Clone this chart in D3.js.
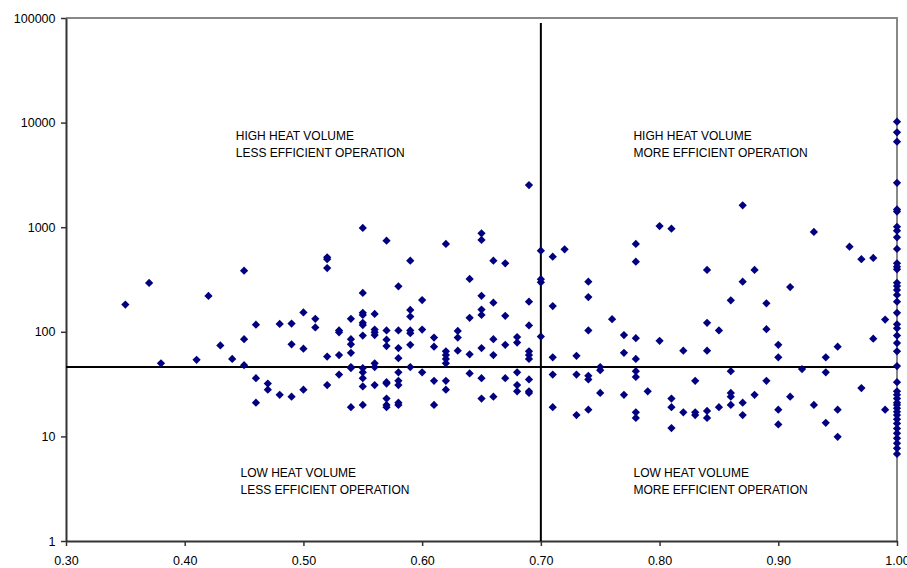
<!DOCTYPE html>
<html>
<head>
<meta charset="utf-8">
<script src="https://cdn.jsdelivr.net/npm/d3@7"></script>
<style>
  body { margin: 0; background: #fff; }
  svg { display: block; font-family: "Liberation Sans", Arial, sans-serif; }
  .tick text { font-size: 12.5px; fill: #000; }
  .quad-label { font-size: 12px; fill: #000; }
</style>
</head>
<body>
<svg id="chart" width="907" height="568"></svg>
<script>
/* ---------- data ---------- */
// x = efficiency ratio, y = heat volume (log scale)
const xVals = [
  0.35, 0.37, 0.38, 0.41, 0.42, 0.43, 0.44,
  0.45, 0.45, 0.45,
  0.46, 0.46, 0.46, 0.47, 0.47,
  0.48, 0.48, 0.49, 0.49, 0.49,
  0.50, 0.50, 0.50, 0.51, 0.51,
  0.52, 0.52, 0.52, 0.52, 0.52,
  0.53, 0.53, 0.53, 0.53,
  0.54, 0.54, 0.54, 0.54, 0.54, 0.54, 0.54,
  0.55, 0.55, 0.55, 0.55, 0.55, 0.55, 0.55, 0.55, 0.55, 0.55, 0.55, 0.55,
  0.56, 0.56, 0.56, 0.56, 0.56, 0.56, 0.56,
  0.57, 0.57, 0.57, 0.57, 0.57, 0.57, 0.57, 0.57, 0.57,
  0.58, 0.58, 0.58, 0.58, 0.58, 0.58, 0.58, 0.58, 0.58,
  0.59, 0.59, 0.59, 0.59, 0.59, 0.59, 0.59,
  0.60, 0.60, 0.60,
  0.61, 0.61, 0.61, 0.61,
  0.62, 0.62, 0.62, 0.62, 0.62, 0.62, 0.62,
  0.63, 0.63, 0.63,
  0.64, 0.64, 0.64, 0.64,
  0.65, 0.65, 0.65, 0.65, 0.65, 0.65, 0.65, 0.65,
  0.66, 0.66, 0.66, 0.66, 0.66,
  0.67, 0.67, 0.67, 0.67,
  0.68, 0.68, 0.68, 0.68, 0.68,
  0.69, 0.69, 0.69, 0.69, 0.69, 0.69, 0.69, 0.69, 0.69,
  0.70, 0.70, 0.70, 0.70,
  0.71, 0.71, 0.71, 0.71, 0.71,
  0.72,
  0.73, 0.73, 0.73,
  0.74, 0.74, 0.74, 0.74, 0.74, 0.74,
  0.75, 0.75, 0.75,
  0.76,
  0.77, 0.77, 0.77,
  0.78, 0.78, 0.78, 0.78, 0.78, 0.78, 0.78, 0.78,
  0.79,
  0.80, 0.80,
  0.81, 0.81, 0.81, 0.81,
  0.82, 0.82,
  0.83, 0.83, 0.83,
  0.84, 0.84, 0.84, 0.84, 0.84,
  0.85, 0.85,
  0.86, 0.86, 0.86, 0.86, 0.86,
  0.87, 0.87, 0.87, 0.87,
  0.88, 0.88,
  0.89, 0.89, 0.89,
  0.90, 0.90, 0.90, 0.90,
  0.91, 0.91,
  0.92,
  0.93, 0.93,
  0.94, 0.94, 0.94,
  0.95, 0.95, 0.95,
  0.96,
  0.97, 0.97,
  0.98, 0.98,
  0.99, 0.99,
  1.00, 1.00, 1.00, 1.00, 1.00, 1.00, 1.00, 1.00, 1.00, 1.00, 1.00, 1.00, 1.00, 1.00,
  1.00, 1.00, 1.00, 1.00, 1.00, 1.00, 1.00, 1.00, 1.00, 1.00, 1.00, 1.00, 1.00, 1.00,
  1.00, 1.00, 1.00, 1.00, 1.00, 1.00, 1.00, 1.00, 1.00, 1.00, 1.00, 1.00, 1.00, 1.00
];
const yVals = [
  182, 293, 50, 54, 220, 74, 55,
  384, 85, 48,
  117, 36, 21, 32, 28,
  119, 25, 120, 76, 24,
  153, 69, 28, 133, 110,
  515, 494, 407, 58, 31,
  103, 99, 60, 39,
  133, 85, 76, 63, 46, 45, 19,
  983, 235, 152, 145, 122, 116, 92, 45, 41, 36, 30, 20,
  148, 105, 99, 93, 50, 46, 31,
  743, 103, 84, 73, 33, 32, 23, 20, 19,
  272, 103, 70, 56, 41, 34, 31, 21, 20,
  478, 162, 140, 103, 97, 75, 46,
  201, 105, 41,
  88, 72, 34, 20,
  691, 65, 60, 55, 50, 34, 28,
  102, 88, 66,
  320, 136, 61, 40,
  874, 755, 221, 163, 145, 70, 36, 23,
  478, 190, 85, 60, 24,
  452, 142, 75, 36,
  89, 79, 41, 31, 27,
  2530, 194, 115, 65, 60, 55, 35, 27, 26,
  596, 318, 297, 90,
  522, 176, 57, 39, 19,
  615,
  59, 39, 16,
  301, 215, 103, 38, 35, 18,
  46, 43, 26,
  132,
  93, 63, 25,
  691, 468, 87, 55, 42, 37, 17, 15,
  27,
  1026, 82,
  968, 23, 19, 12,
  66, 17,
  34, 17, 16,
  390, 122, 66, 17.5, 15,
  103, 19,
  200, 42, 26, 24, 20,
  1620, 301, 21, 16,
  390, 25,
  187, 106, 34,
  75, 57, 18, 13,
  268, 24,
  44,
  900, 20,
  57, 41, 13.5,
  72, 18, 9.9,
  651,
  494, 29,
  508, 86,
  131, 18,
  10200, 8070, 6570, 2660, 1480, 1410, 1010, 926, 800, 619, 452, 419, 396, 294,
  274, 251, 225, 194, 152, 118, 108, 92, 78, 65, 47, 33, 27, 25,
  23, 21, 20, 18.6, 17.2, 16, 14.6, 13.3, 11.9, 10.7, 9.6, 8.6, 7.7, 6.8
];
const xTicks = [0.30, 0.40, 0.50, 0.60, 0.70, 0.80, 0.90, 1.00];
const yTicks = [1, 10, 100, 1000, 10000, 100000];
const xSplit = 0.70;   // vertical divider
const ySplit = 46;     // horizontal divider
const quadLabels = [
  { x: 0.443, y: 6800, lines: ["HIGH HEAT VOLUME", "LESS EFFICIENT OPERATION"] },
  { x: 0.778, y: 6800, lines: ["HIGH HEAT VOLUME", "MORE EFFICIENT OPERATION"] },
  { x: 0.447, y: 4.1, lines: ["LOW HEAT VOLUME", "LESS EFFICIENT OPERATION"] },
  { x: 0.778, y: 4.1, lines: ["LOW HEAT VOLUME", "MORE EFFICIENT OPERATION"] }
];

/* ---------- layout ---------- */
const svg = d3.select("#chart");
const viewW = 907, viewH = 568;
const margin = { top: 18, right: 10, bottom: 27, left: 66 };
const innerW = viewW - margin.left - margin.right;
const innerH = viewH - margin.top - margin.bottom;

const g = svg.append("g").attr("transform", `translate(${margin.left},${margin.top})`);

const xScale = d3.scaleLinear().domain([0.30, 1.00]).range([0, innerW]);
const yScale = d3.scaleLog().domain([1, 100000]).range([innerH, 0]);

// frame (gray top / right)
g.append("path")
  .attr("d", `M0,0H${innerW}V${innerH}`)
  .attr("fill", "none").attr("stroke", "#888").attr("stroke-width", 2);

/* ---------- axes ---------- */
const xAxis = d3.axisBottom(xScale).tickValues(xTicks).tickFormat(d3.format(".2f")).tickSize(5).tickSizeOuter(0);
const yAxis = d3.axisLeft(yScale).tickValues(yTicks).tickFormat(d3.format("d")).tickSize(5).tickSizeOuter(0);

const xg = g.append("g").attr("transform", `translate(0,${innerH})`).call(xAxis);
const yg = g.append("g").call(yAxis);
[xg, yg].forEach(a => {
  a.select(".domain").attr("stroke", "#333").attr("stroke-width", 2);
  a.selectAll(".tick line").attr("stroke", "#333").attr("stroke-width", 1.5);
});
xg.selectAll(".tick text").attr("dy", "1.3em");
yg.selectAll(".tick text").attr("dx", "-0.2em");

/* ---------- divider lines ---------- */
g.append("line")
  .attr("x1", xScale(xSplit)).attr("x2", xScale(xSplit))
  .attr("y1", 5).attr("y2", innerH)
  .attr("stroke", "#000").attr("stroke-width", 2);
g.append("line")
  .attr("x1", 0).attr("x2", innerW)
  .attr("y1", yScale(ySplit)).attr("y2", yScale(ySplit))
  .attr("stroke", "#000").attr("stroke-width", 2);

/* ---------- points ---------- */
const pts = xVals.map((x, i) => ({ x, y: yVals[i] }));
const diamond = d3.symbol().type(d3.symbolSquare).size(34);
g.append("g").selectAll("path")
  .data(pts)
  .join("path")
  .attr("d", diamond)
  .attr("transform", d => `translate(${xScale(d.x)},${yScale(d.y)}) rotate(45)`)
  .attr("fill", "#000080");

/* ---------- quadrant labels ---------- */
quadLabels.forEach(q => {
  const t = g.append("text").attr("class", "quad-label")
    .attr("x", xScale(q.x)).attr("y", yScale(q.y));
  q.lines.forEach((s, i) => {
    t.append("tspan").attr("x", xScale(q.x)).attr("dy", i === 0 ? 0 : 17).text(s);
  });
});
</script>
</body>
</html>
